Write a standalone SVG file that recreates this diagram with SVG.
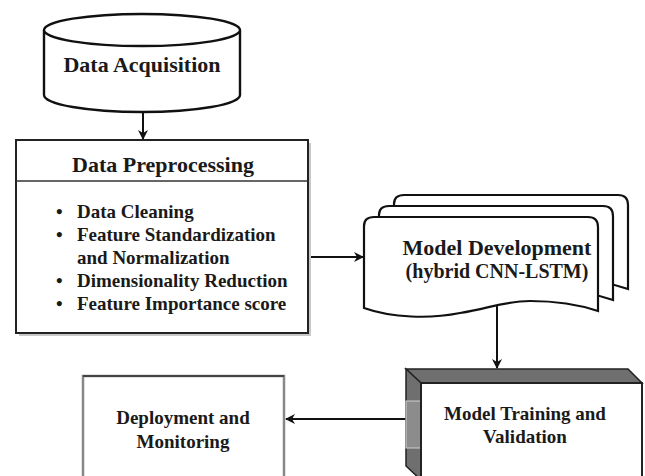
<svg xmlns="http://www.w3.org/2000/svg" xmlns:xlink="http://www.w3.org/1999/xlink" width="645" height="476" viewBox="0 0 645 476">
<style>
text{font-family:"Liberation Serif","Times New Roman",serif;font-weight:bold;fill:#1a1a1a}
.c{text-anchor:middle}
.ln{stroke:#111;stroke-width:2;fill:none}
.box{fill:#fff;stroke:#222;stroke-width:2}
.doc{fill:#fff;stroke:#111;stroke-width:2.2}
.shade{fill:#6f6f6f;stroke:#222;stroke-width:1.5}
</style>
<defs>
<marker id="ah" markerWidth="10" markerHeight="10" refX="9" refY="5" orient="auto" markerUnits="userSpaceOnUse">
<path d="M0,0 L10,5 L0,10 L3,5 Z" fill="#111"/>
</marker>
<path id="docshape" d="M364,308 L364,226 Q364,217 374,217 L588,217 Q598,217 598,227 L598,311 C580,305 560,301 530,301 C505,301 490,308 460,313 C430,319 392,318 364,308 Z"/>
</defs>
<rect width="645" height="476" fill="#fff"/>

<g id="connectors">
<line class="ln" x1="143" y1="112" x2="143" y2="139" marker-end="url(#ah)"/>
<line class="ln" x1="308" y1="257" x2="363" y2="257" marker-end="url(#ah)"/>
<line class="ln" x1="497" y1="305" x2="497" y2="368" marker-end="url(#ah)"/>
<line class="ln" x1="406" y1="419" x2="286" y2="419" marker-end="url(#ah)"/>
</g>

<g id="acquisition">
<path d="M44,30 L44,95 A98,17 0 0 0 240,95 L240,30" fill="#fff" stroke="#111" stroke-width="2.4"/>
<ellipse cx="142" cy="30" rx="98" ry="16" fill="#fff" stroke="#111" stroke-width="2.4"/>
<text class="c" x="142" y="72" font-size="22">Data Acquisition</text>
</g>

<g id="preprocessing">
<rect x="19" y="143" width="292" height="193" fill="#c8c8c8"/>
<rect class="box" x="16" y="140" width="292" height="193"/>
<line x1="16" y1="181" x2="308" y2="181" stroke="#333" stroke-width="1.5"/>
<text class="c" x="163" y="172" font-size="22">Data Preprocessing</text>
<g font-size="19">
<text x="56" y="218">•</text><text x="77" y="218">Data Cleaning</text>
<text x="56" y="241">•</text><text x="77" y="241">Feature Standardization</text>
<text x="77" y="264">and Normalization</text>
<text x="56" y="287">•</text><text x="77" y="287">Dimensionality Reduction</text>
<text x="56" y="310">•</text><text x="77" y="310">Feature Importance score</text>
</g>
</g>

<g id="model-development">
<use xlink:href="#docshape" class="doc" transform="translate(30,-22)"/>
<use xlink:href="#docshape" class="doc" transform="translate(15,-11)"/>
<use xlink:href="#docshape" class="doc"/>
<text class="c" x="497" y="255" font-size="22">Model Development</text>
<text class="c" x="497" y="278" font-size="20">(hybrid CNN-LSTM)</text>
</g>

<g id="training">
<polygon class="shade" points="406,369 628,369 642,383 421,383"/>
<polygon class="shade" points="406,369 421,383 421,480 406,466"/>
<rect x="406" y="401" width="15" height="47" fill="#8c8c8c" stroke="#d0d0d0" stroke-width="1"/>
<rect class="box" x="421" y="383" width="221" height="100"/>
<text class="c" x="525" y="420" font-size="19">Model Training and</text>
<text class="c" x="525" y="443" font-size="19">Validation</text>
</g>

<g id="deployment">
<rect x="83" y="376" width="201" height="110" fill="#fff" stroke="#888" stroke-width="2.5"/>
<line x1="83" y1="376" x2="284" y2="376" stroke="#444" stroke-width="2"/>
<text class="c" x="183" y="424" font-size="19">Deployment and</text>
<text class="c" x="183" y="448" font-size="19">Monitoring</text>
</g>
</svg>
